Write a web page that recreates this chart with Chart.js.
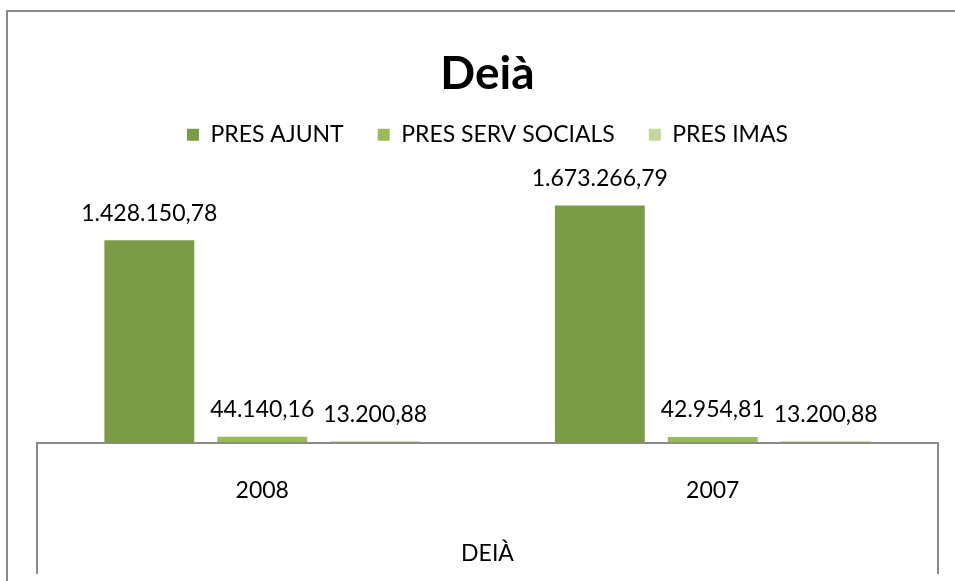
<!DOCTYPE html>
<html>
<head>
<meta charset="utf-8">
<title>Deià</title>
<script src="https://cdn.jsdelivr.net/npm/chart.js@4.4.1/dist/chart.umd.min.js"></script>
<style>
  html, body { margin: 0; padding: 0; background: #fff; }
  canvas { display: block; }
</style>
</head>
<body>
<canvas id="chart" width="955" height="581"></canvas>
<script>
// pressupostos per any
const years = ['2008', '2007'];
const presAjunt = [1428150.78, 1673266.79];
const presServSocials = [44140.16, 42954.81];
const presImas = [13200.88, 13200.88];
const seriesNames = ['PRES AJUNT', 'PRES SERV SOCIALS', 'PRES IMAS'];
const groupLabel = 'DEIÀ';

const FONT = 'Lato, "Open Sans", sans-serif';

// 1428150.78 -> "1.428.150,78"
function fmt(v) {
  const parts = v.toFixed(2).split('.');
  return parts[0].replace(/\B(?=(\d{3})+(?!\d))/g, '.') + ',' + parts[1];
}

const frame = {
  id: 'frame',
  beforeDraw(chart) {
    const ctx = chart.ctx;
    ctx.save();
    ctx.strokeStyle = '#8a8a8a';
    ctx.lineWidth = 2;
    ctx.beginPath();
    ctx.moveTo(7, 581);
    ctx.lineTo(7, 11);
    ctx.lineTo(955, 11);
    ctx.stroke();
    ctx.restore();
  },
  afterDraw(chart) {
    const ctx = chart.ctx;
    const a = chart.chartArea;
    ctx.save();
    ctx.strokeStyle = '#8a8a8a';
    ctx.lineWidth = 2;
    ctx.beginPath();
    ctx.moveTo(a.left, 574);
    ctx.lineTo(a.left, a.bottom);
    ctx.lineTo(a.right, a.bottom);
    ctx.lineTo(a.right, 574);
    ctx.stroke();
    ctx.restore();
  }
};

const valueLabels = {
  id: 'valueLabels',
  afterDatasetsDraw(chart) {
    const ctx = chart.ctx;
    ctx.save();
    ctx.font = '23px ' + FONT;
    ctx.fillStyle = '#000';
    ctx.textAlign = 'center';
    ctx.textBaseline = 'middle';
    chart.data.datasets.forEach((ds, i) => {
      chart.getDatasetMeta(i).data.forEach((bar, j) => {
        ctx.fillText(fmt(ds.data[j]), bar.x, bar.y - 27);
      });
    });
    ctx.restore();
  }
};

new Chart(document.getElementById('chart'), {
  type: 'bar',
  data: {
    labels: years,
    datasets: [
      { label: seriesNames[0], data: presAjunt, backgroundColor: '#7b9a45' },
      { label: seriesNames[1], data: presServSocials, backgroundColor: '#9bbb59' },
      { label: seriesNames[2], data: presImas, backgroundColor: '#c3d69b' }
    ]
  },
  options: {
    responsive: false,
    animation: false,
    layout: { padding: { left: 37, right: 17, top: 0, bottom: 0 } },
    datasets: {
      bar: { categoryPercentage: 0.752, barPercentage: 0.796 }
    },
    plugins: {
      title: {
        display: true,
        text: 'Deià',
        color: '#000',
        font: { family: FONT, size: 46, weight: 'bold' },
        padding: { top: 47, bottom: -13 }
      },
      legend: {
        labels: {
          color: '#000',
          font: { family: FONT, size: 23 },
          boxWidth: 12,
          boxHeight: 12,
          padding: 34
        }
      },
      tooltip: { enabled: false }
    },
    scales: {
      y: { display: false, min: 0, max: 2020000 },
      x: {
        afterFit(scale) { scale.height = 138; },
        grid: { display: false, drawTicks: false },
        border: { display: false },
        ticks: { color: '#000', font: { family: FONT, size: 23 }, padding: 34 },
        title: {
          display: true,
          text: groupLabel,
          color: '#000',
          font: { family: FONT, size: 23 },
          padding: { bottom: 14 }
        }
      }
    }
  },
  plugins: [frame, valueLabels]
});
</script>
</body>
</html>
